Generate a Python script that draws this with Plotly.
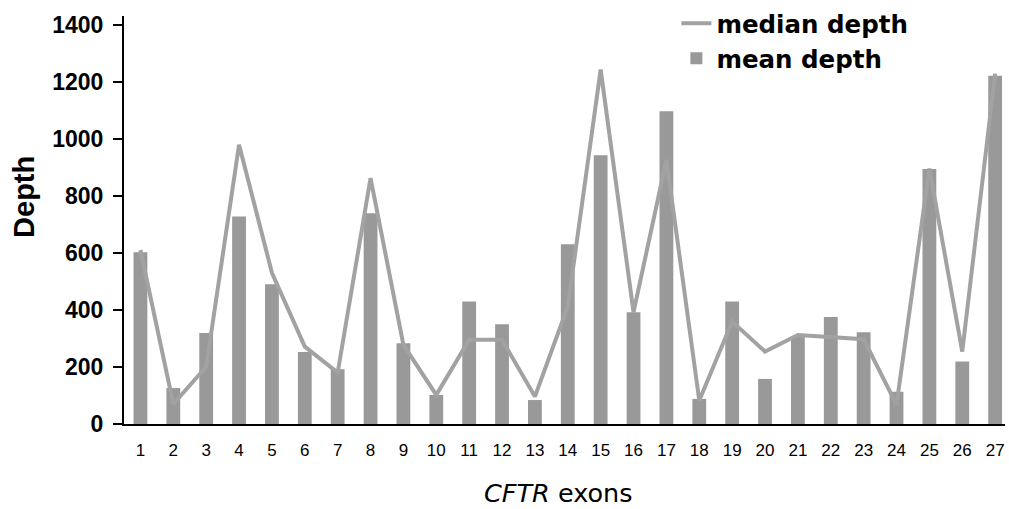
import plotly.graph_objects as go

exons = list(range(1, 28))
mean_depth = [602, 126, 319, 727, 490, 252, 192, 739, 283, 102, 429, 350, 84, 630,
              942, 392, 1096, 88, 429, 158, 306, 375, 322, 113, 894, 219, 1221]
median_depth = [610, 70, 200, 979, 530, 271, 180, 862, 277, 102, 295, 295, 96, 412,
                1242, 392, 926, 82, 359, 254, 312, 306, 297, 68, 895, 254, 1228]
y_ticks = [0, 200, 400, 600, 800, 1000, 1200, 1400]

fig = go.Figure()
fig.add_trace(go.Scatter(x=exons, y=median_depth, mode="lines", name="median depth",
                         line=dict(color="#a2a2a2", width=4)))
fig.add_trace(go.Bar(x=exons, y=mean_depth, name="mean depth", width=0.42,
                     marker=dict(color="#999999", line=dict(width=0))))

fig.update_layout(
    width=1009, height=509,
    margin=dict(l=124, r=4, t=16, b=85, autoexpand=False),
    plot_bgcolor="white", paper_bgcolor="white",
    font=dict(family="Liberation Sans, Arial, sans-serif", color="black"),
    showlegend=True,
    legend=dict(x=0.627, y=1.037, xanchor="left", yanchor="top",
                font=dict(size=24.5, family="DejaVu Sans, sans-serif", weight="bold"),
                bgcolor="rgba(0,0,0,0)", tracegroupgap=0, traceorder="normal"),
)
fig.update_xaxes(range=[0.5, 27.3], tickmode="array", tickvals=exons,
                 ticktext=[str(e) for e in exons], showline=True, linecolor="black",
                 linewidth=2, ticks="", showgrid=False, zeroline=False,
                 tickfont=dict(size=17), ticklabelstandoff=10)
fig.update_yaxes(range=[0, 1430], tickmode="array", tickvals=y_ticks,
                 showline=True, linecolor="black", linewidth=2, ticks="outside",
                 ticklen=9, tickwidth=2, tickcolor="black", showgrid=False,
                 zeroline=False, tickfont=dict(size=23, weight="bold"),
                 ticklabelstandoff=5)

fig.add_annotation(text="<i>CFTR</i> exons", xref="paper", yref="paper",
                   x=0.4926, y=-0.169, xanchor="center", yanchor="middle",
                   showarrow=False, font=dict(size=25.5, family="DejaVu Sans, sans-serif"))
fig.add_annotation(text="<b>Depth</b>", xref="paper", yref="paper",
                   x=-0.113, y=0.5576, xanchor="center", yanchor="middle",
                   textangle=-90, showarrow=False, font=dict(size=29))

# remove the browser's default 8px body margin so the figure fills the window
fig.write_html("out.html", config={"displayModeBar": False},
               post_script="document.body.style.margin='0';")
